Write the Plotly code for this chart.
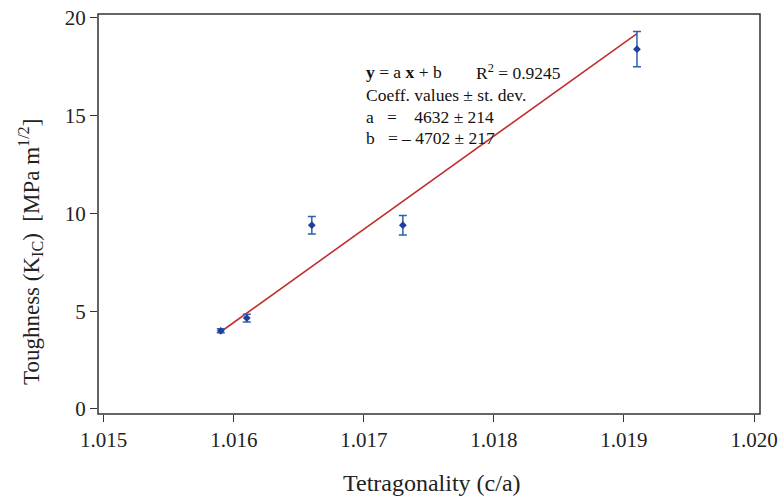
import plotly.graph_objects as go

# data
tetragonality = [1.0159, 1.0161, 1.0166, 1.0173, 1.0191]
toughness = [4.0, 4.65, 9.4, 9.4, 18.4]
toughness_err = [0.1, 0.2, 0.45, 0.5, 0.9]
fit_x = [1.0159, 1.0191]
fit_y = [3.95, 19.2]
x_ticks = [1.015, 1.016, 1.017, 1.018, 1.019, 1.020]
x_tick_labels = ["1.015", "1.016", "1.017", "1.018", "1.019", "1.020"]
y_ticks = [0, 5, 10, 15, 20]
y_tick_labels = ["0", "5", "10", "15", "20"]

FONT = "Liberation Serif"
fig = go.Figure()
fig.add_trace(go.Scatter(x=fit_x, y=fit_y, mode="lines",
                         line=dict(color="#c0302c", width=1.6), showlegend=False))
fig.add_trace(go.Scatter(x=tetragonality, y=toughness, mode="markers",
                         marker=dict(color="#1f3f9f", size=6, symbol="diamond"),
                         error_y=dict(type="data", array=toughness_err, color="#2f5fb0",
                                      thickness=1.5, width=4),
                         showlegend=False))

ax_common = dict(showline=False,
                 ticks="outside", ticklen=7, tickwidth=1.2, tickcolor="#333333",
                 showgrid=False, zeroline=False, automargin=False,
                 ticklabeloverflow="allow",
                 tickfont=dict(family=FONT, size=21, color="#222222"))
fig.update_xaxes(range=[1.014956, 1.020046], tickvals=x_ticks, ticktext=x_tick_labels,
                 **ax_common)
fig.update_yaxes(range=[-0.256, 20.2], tickvals=y_ticks, ticktext=y_tick_labels,
                 **ax_common)

# plot frame
fig.add_shape(type="rect", xref="paper", yref="paper", x0=0, y0=0, x1=1, y1=1,
              line=dict(color="#333333", width=1.5), layer="above")

title_font = dict(family=FONT, size=24, color="#222222")
fig.add_annotation(xref="paper", yref="paper", x=0.505, y=-0.1725, text="Tetragonality (c/a)",
                   showarrow=False, xanchor="center", yanchor="middle", font=title_font)
fig.add_annotation(xref="paper", yref="paper", x=-0.1027, y=0.405,
                   text="Toughness (K<sub>IC</sub>)  [MPa m<sup>1/2</sup>]",
                   showarrow=False, xanchor="center", yanchor="middle", textangle=-90,
                   font=dict(family=FONT, size=23, color="#222222"))

ann_font = dict(family=FONT, size=17.5, color="#111111")
lines = [
    (1.01700, 17.24, "<b>y</b> = a <b>x</b> + b"),
    (1.01785, 17.24, "R<sup>2</sup> = 0.9245"),
    (1.01700, 16.06, "Coeff. values ± st. dev."),
    (1.01700, 14.94, "a   =    4632 ± 214"),
    (1.01700, 13.86, "b   = – 4702 ± 217"),
]
for x, y, t in lines:
    fig.add_annotation(x=x, y=y, text=t, showarrow=False, xanchor="left", yanchor="middle",
                       font=ann_font)

fig.update_layout(width=779, height=498, margin=dict(l=98, r=19, t=14, b=84),
                  plot_bgcolor="white", paper_bgcolor="white")
fig.write_html(
    "out.html",
    config={"displayModeBar": False},
    post_script="document.body.style.margin='0';"
                "document.body.style.overflow='hidden';"
                "document.documentElement.style.overflow='hidden';",
)
